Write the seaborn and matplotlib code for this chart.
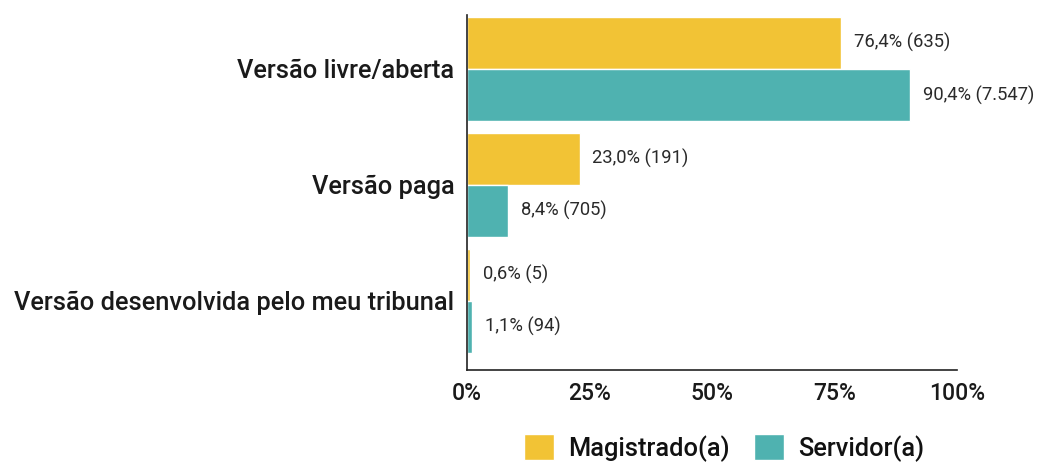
import pandas as pd
import seaborn as sns
import matplotlib.pyplot as plt
from matplotlib.patches import Patch

categorias = ["Versão livre/aberta", "Versão paga", "Versão desenvolvida pelo meu tribunal"]
grupos = ["Magistrado(a)", "Servidor(a)"]
pct_magistrado = [76.4, 23.0, 0.6]
n_magistrado = [635, 191, 5]
pct_servidor = [90.4, 8.4, 1.1]
n_servidor = [7547, 705, 94]
cores = ["#F2C335", "#4FB2B0"]

linhas = []
for cat, p, n in zip(categorias, pct_magistrado, n_magistrado):
    linhas.append({"categoria": cat, "grupo": grupos[0], "pct": p, "n": n})
for cat, p, n in zip(categorias, pct_servidor, n_servidor):
    linhas.append({"categoria": cat, "grupo": grupos[1], "pct": p, "n": n})
df = pd.DataFrame(linhas)

sns.set_theme(style="white")
plt.rcParams['font.family'] = ['Roboto', 'DejaVu Sans']

fig, ax = plt.subplots(figsize=(10.38, 4.65), dpi=100)
fig.subplots_adjust(left=0.45, right=0.922, top=0.968, bottom=0.205)

sns.barplot(data=df, y="categoria", x="pct", hue="grupo", order=categorias,
            hue_order=grupos, palette=cores, orient="h", width=0.9,
            saturation=1, errorbar=None, legend=False, ax=ax)


def fmt_num(v):
    return f"{v:,}".replace(",", ".")


# rótulos nas barras
for container, g in zip(ax.containers, grupos):
    sub = df[df["grupo"] == g].set_index("categoria").loc[categorias]
    rotulos = [f"{p:.1f}".replace(".", ",") + f"% ({fmt_num(n)})"
               for p, n in zip(sub["pct"], sub["n"])]
    ax.bar_label(container, labels=rotulos, padding=9, fontsize=13.2,
                 fontweight="normal", color="#2a2a2a")

ax.set_xlim(0, 100)
ax.set_ylim(2.595, -0.466)
ax.set_xticks([0, 25, 50, 75, 100])
ax.set_xticklabels(["0%", "25%", "50%", "75%", "100%"])
ax.set_xlabel("")
ax.set_ylabel("")
sns.despine(ax=ax, top=True, right=True)
for s in ["left", "bottom"]:
    ax.spines[s].set_color("#222222")
    ax.spines[s].set_linewidth(1.2)
ax.tick_params(axis="both", direction="out", length=6, width=1, color="#222222")
ax.tick_params(axis="y", labelsize=18.3, labelcolor="#1a1a1a", pad=3)
ax.tick_params(axis="x", labelsize=16.5, labelcolor="#1a1a1a", pad=3)
for t in ax.get_yticklabels() + ax.get_xticklabels():
    t.set_fontweight("medium")

handles = [Patch(facecolor=c, label=g) for c, g in zip(cores, grupos)]
leg = fig.legend(handles=handles, loc="lower center", ncol=2, frameon=False,
                 bbox_to_anchor=(0.6975, -0.042), fontsize=18.3, handlelength=1.2,
                 handleheight=1.2, columnspacing=0.95, handletextpad=0.55)
for t in leg.get_texts():
    t.set_fontweight("medium")
    t.set_color("#111111")

plt.savefig("out.png", dpi=100)
